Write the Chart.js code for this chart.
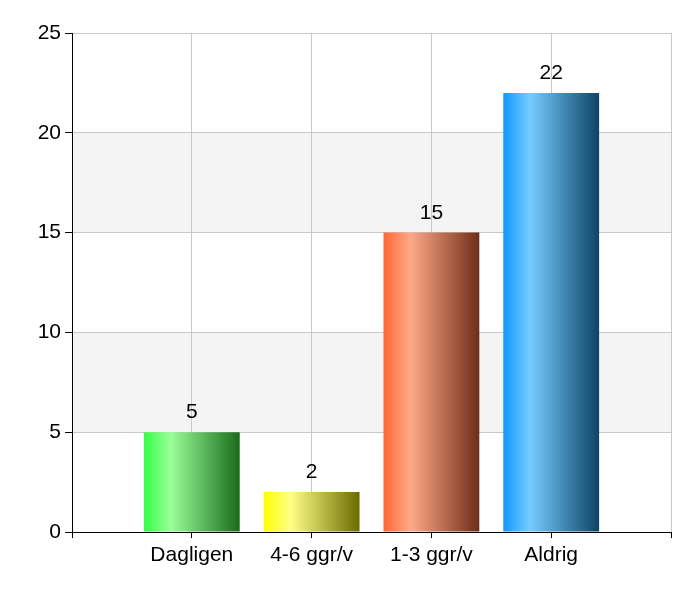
<!DOCTYPE html>
<html>
<head>
<meta charset="utf-8">
<script src="https://cdn.jsdelivr.net/npm/chart.js@4"></script>
<style>
  body { margin: 0; background: #fff; }
  #wrap { width: 700px; height: 600px; }
</style>
</head>
<body>
<div id="wrap"><canvas id="freqChart" width="700" height="600"></canvas></div>
<script>
const categories = ['Dagligen', '4-6 ggr/v', '1-3 ggr/v', 'Aldrig'];
const answers = [5, 2, 15, 22];
const yTicks = [0, 5, 10, 15, 20, 25];

// left / highlight / dark stops for each bar
const barColors = [
  ['#33ff44', '#99ff99', '#1a6b1a'],
  ['#ffff00', '#ffff88', '#6b6b00'],
  ['#ff6633', '#ffaa88', '#6e2e18'],
  ['#1199ff', '#77ccff', '#0d4466']
];

const font = { family: 'Liberation Sans, Arial, sans-serif', size: 21 };

// padded so the bars sit on the inner grid lines
const labels = ['', ...categories, ''];
const values = [null, ...answers, null];

function barFill(ctx) {
  const chart = ctx.chart;
  const xs = chart.scales.x;
  const i = ctx.dataIndex;
  const c = barColors[i - 1];
  if (!xs || !c) return '#888';
  const cx = xs.getPixelForValue(i);
  const w = (xs.getPixelForValue(1) - xs.getPixelForValue(0)) * 0.8;
  const g = chart.ctx.createLinearGradient(cx - w / 2, 0, cx + w / 2, 0);
  g.addColorStop(0, c[0]);
  g.addColorStop(0.28, c[1]);
  g.addColorStop(1, c[2]);
  return g;
}

const bands = {
  id: 'bands',
  beforeDraw(chart) {
    const { ctx, chartArea: a, scales: { y } } = chart;
    ctx.save();
    ctx.fillStyle = '#fff';
    ctx.fillRect(0, 0, chart.width, chart.height);
    ctx.fillStyle = '#f4f4f4';
    for (let k = 1; k < yTicks.length - 1; k += 2) {
      const top = y.getPixelForValue(yTicks[k + 1]);
      const bot = y.getPixelForValue(yTicks[k]);
      ctx.fillRect(a.left, top, a.right - a.left, bot - top);
    }
    ctx.restore();
  }
};

const valueLabels = {
  id: 'valueLabels',
  afterDatasetsDraw(chart) {
    const { ctx } = chart;
    const meta = chart.getDatasetMeta(0);
    ctx.save();
    ctx.font = font.size + 'px ' + font.family;
    ctx.fillStyle = '#000';
    ctx.textAlign = 'center';
    ctx.textBaseline = 'alphabetic';
    meta.data.forEach((bar, i) => {
      if (values[i] == null) return;
      ctx.fillText(String(values[i]), bar.x, bar.y - 14);
    });
    ctx.restore();
  }
};

new Chart(document.getElementById('freqChart'), {
  type: 'bar',
  data: {
    labels: labels,
    datasets: [{
      data: values,
      backgroundColor: barFill,
      borderWidth: 0,
      categoryPercentage: 0.8,
      barPercentage: 1
    }]
  },
  options: {
    responsive: false,
    animation: false,
    layout: { padding: { top: 33, right: 29, left: 0, bottom: 0 } },
    plugins: { legend: { display: false }, tooltip: { enabled: false } },
    scales: {
      x: {
        offset: false,
        grid: { offset: false, color: '#c8c8c8', tickColor: '#000', tickLength: 6 },
        border: { color: '#000', width: 1 },
        ticks: { color: '#000', font: font, padding: 5, maxRotation: 0, autoSkip: false },
        afterFit(s) { s.height = 68; }
      },
      y: {
        min: 0,
        max: 25,
        grid: { color: '#c8c8c8', tickColor: '#000', tickLength: 7 },
        border: { color: '#000', width: 1 },
        ticks: { stepSize: 5, color: '#000', font: font, padding: 4 },
        afterFit(s) { s.width = 72; }
      }
    }
  },
  plugins: [bands, valueLabels]
});
</script>
</body>
</html>
